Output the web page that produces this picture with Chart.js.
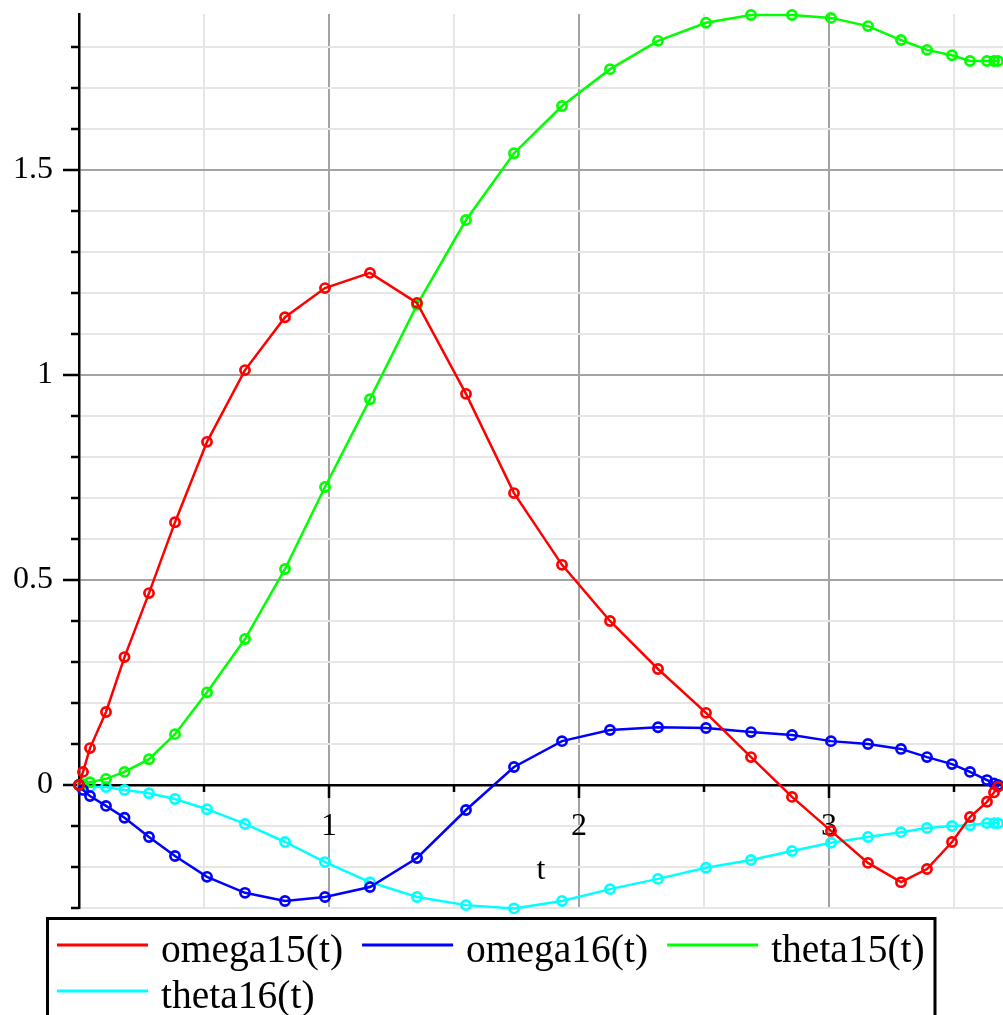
<!DOCTYPE html>
<html>
<head>
<meta charset="utf-8">
<script src="https://cdn.jsdelivr.net/npm/chart.js@4/dist/chart.umd.min.js"></script>
<style>
html, body { margin: 0; padding: 0; background: #ffffff; }
#wrap { width: 1003px; height: 1015px; position: relative; overflow: hidden; }
canvas { display: block; }
</style>
</head>
<body>
<div id="wrap"><canvas id="c" width="1003" height="1015"></canvas></div>
<script>
// ---------- data ----------
const tValues = [0, 0.016, 0.044, 0.108, 0.182, 0.28, 0.384, 0.512, 0.664, 0.824, 0.984, 1.164, 1.352, 1.548, 1.74, 1.932, 2.124, 2.316, 2.508, 2.688, 2.852, 3.008, 3.156, 3.288, 3.392, 3.492, 3.564, 3.632, 3.66, 3.676];
const omega15 = [0, 0.032, 0.090, 0.178, 0.312, 0.468, 0.641, 0.837, 1.012, 1.141, 1.212, 1.249, 1.176, 0.954, 0.712, 0.537, 0.400, 0.283, 0.176, 0.068, -0.029, -0.112, -0.190, -0.237, -0.205, -0.139, -0.078, -0.041, -0.018, -0.004];
const omega16 = [0, -0.012, -0.027, -0.051, -0.080, -0.127, -0.173, -0.224, -0.263, -0.283, -0.273, -0.249, -0.178, -0.061, 0.044, 0.107, 0.134, 0.141, 0.139, 0.129, 0.122, 0.107, 0.100, 0.088, 0.068, 0.051, 0.032, 0.012, 0.004, 0.000];
const theta15 = [0, 0.002, 0.007, 0.015, 0.032, 0.063, 0.124, 0.226, 0.356, 0.527, 0.727, 0.941, 1.171, 1.378, 1.541, 1.656, 1.746, 1.815, 1.859, 1.878, 1.878, 1.871, 1.851, 1.817, 1.793, 1.780, 1.766, 1.766, 1.766, 1.766];
const theta16 = [0, -0.001, -0.004, -0.005, -0.012, -0.020, -0.034, -0.059, -0.095, -0.139, -0.188, -0.237, -0.273, -0.293, -0.301, -0.283, -0.254, -0.229, -0.202, -0.183, -0.161, -0.141, -0.127, -0.115, -0.105, -0.100, -0.098, -0.093, -0.093, -0.093];

const seriesNames = ['omega15(t)', 'omega16(t)', 'theta15(t)', 'theta16(t)'];
const seriesColors = ['#ff0000', '#0000ff', '#00ff00', '#00ffff'];

const xTickValues = [0, 0.5, 1, 1.5, 2, 2.5, 3, 3.5];
const xLabelValues = [1, 2, 3];
const xLabelTexts = ['1', '2', '3'];
const yTickValues = [-0.3, -0.2, -0.1, 0, 0.1, 0.2, 0.3, 0.4, 0.5, 0.6, 0.7, 0.8, 0.9, 1, 1.1, 1.2, 1.3, 1.4, 1.5, 1.6, 1.7, 1.8];
const yLabelValues = [0, 0.5, 1, 1.5];
const yLabelTexts = ['0', '0.5', '1', '1.5'];
const xAxisTitle = 't';

const xMin = 0, xMax = 3.696, yMin = -0.3, yMax = 1.8805;

// ---------- helpers ----------
const FONT = "'Liberation Serif', 'Times New Roman', serif";
function near(a, b) { return Math.abs(a - b) < 1e-9; }
function labelFor(v, vals, texts) {
  for (let i = 0; i < vals.length; i++) if (near(v, vals[i])) return texts[i];
  return '';
}
function isMajorX(v) { return near(v, Math.round(v)); }
function isMajorY(v) { return near(v * 2, Math.round(v * 2)); }
function noPad(s) { s.paddingTop = 0; s.paddingBottom = 0; s.paddingLeft = 0; s.paddingRight = 0; }

const seriesValues = [omega15, omega16, theta15, theta16];
const datasets = seriesValues.map((vals, k) => ({
  label: seriesNames[k],
  data: tValues.map((t, i) => ({ x: t, y: vals[i] })),
  borderColor: seriesColors[k],
  pointBorderColor: seriesColors[k],
  pointBackgroundColor: 'rgba(0,0,0,0)',
  borderWidth: 2.5,
  pointRadius: 4.6,
  pointBorderWidth: 2.7,
  pointStyle: 'circle',
  tension: 0,
  fill: false,
  clip: false
}));

// tick marks on the axes + axis title
const axisDecor = {
  id: 'axisDecor',
  beforeDatasetsDraw(chart) {
    const { ctx, scales: { x, y }, chartArea } = chart;
    const x0 = x.getPixelForValue(0);
    const y0 = y.getPixelForValue(0);
    ctx.save();
    ctx.strokeStyle = '#000';
    ctx.lineWidth = 2.5;
    ctx.beginPath();
    y.ticks.forEach(tk => {
      const py = Math.round(y.getPixelForValue(tk.value));
      const len = isMajorY(tk.value) ? 16 : 8;
      ctx.moveTo(x0 - len, py); ctx.lineTo(x0, py);
    });
    x.ticks.forEach(tk => {
      if (near(tk.value, 0)) return;
      const px = Math.round(x.getPixelForValue(tk.value));
      const len = isMajorX(tk.value) ? 13 : 7;
      ctx.moveTo(px, y0); ctx.lineTo(px, y0 + len);
    });
    ctx.stroke();
    ctx.fillStyle = '#000';
    ctx.font = '32px ' + FONT;
    ctx.textAlign = 'center';
    ctx.textBaseline = 'middle';
    ctx.fillText(xAxisTitle, (chartArea.left + chartArea.right) / 2, y0 + 86);
    ctx.restore();
  }
};

// bordered legend below the plot
const boxLegend = {
  id: 'boxLegend',
  afterDraw(chart) {
    const { ctx } = chart;
    const boxL = 47.5, boxT = 918.5, boxR = 935;
    ctx.save();
    ctx.strokeStyle = '#000';
    ctx.lineWidth = 3;
    ctx.strokeRect(boxL, boxT, boxR - boxL, 200);
    ctx.font = '39.5px ' + FONT;
    ctx.textBaseline = 'alphabetic';
    ctx.textAlign = 'left';
    let x = 57, row = 0;
    chart.data.datasets.forEach(ds => {
      const tw = ctx.measureText(ds.label).width;
      if (x + 104 + tw > boxR - 8) { row++; x = 57; }
      const lineY = 945 + row * 46;
      ctx.strokeStyle = ds.borderColor;
      ctx.lineWidth = 3;
      ctx.beginPath();
      ctx.moveTo(x, lineY); ctx.lineTo(x + 91, lineY);
      ctx.stroke();
      ctx.fillStyle = '#000';
      ctx.fillText(ds.label, x + 104, lineY + 17);
      x = x + 104 + tw + 19;
    });
    ctx.restore();
  }
};

const tickFont = { family: FONT, size: 32 };

new Chart(document.getElementById('c'), {
  type: 'line',
  data: { datasets },
  options: {
    responsive: false,
    animation: false,
    devicePixelRatio: 1,
    layout: { autoPadding: false, padding: { left: 0, right: 0, top: 14, bottom: 107 } },
    plugins: { legend: { display: false }, tooltip: { enabled: false }, title: { display: false } },
    scales: {
      x: {
        type: 'linear',
        min: xMin, max: xMax,
        position: { y: 0 },
        afterFit: s => { s.height = 0; noPad(s); },
        afterBuildTicks: s => { s.ticks = xTickValues.map(v => ({ value: v })); },
        grid: {
          color: c => (c.tick && isMajorX(c.tick.value)) ? '#a3a3a3' : '#e6e6e6',
          lineWidth: 2,
          drawTicks: false
        },
        border: { display: true, color: '#000', width: 2.5 },
        ticks: {
          autoSkip: false, maxRotation: 0, minRotation: 0, padding: 22,
          color: '#000', font: tickFont,
          callback: v => labelFor(v, xLabelValues, xLabelTexts)
        }
      },
      y: {
        type: 'linear',
        min: yMin, max: yMax,
        position: 'left',
        afterFit: s => { s.width = 79; noPad(s); },
        afterBuildTicks: s => { s.ticks = yTickValues.map(v => ({ value: v })); },
        grid: {
          color: c => (c.tick && isMajorY(c.tick.value)) ? '#a3a3a3' : '#e6e6e6',
          lineWidth: 2,
          drawTicks: false
        },
        border: { display: true, color: '#000', width: 2.5 },
        ticks: {
          autoSkip: false, padding: 26,
          color: '#000', font: tickFont,
          callback: v => labelFor(v, yLabelValues, yLabelTexts)
        }
      }
    }
  },
  plugins: [axisDecor, boxLegend]
});
</script>
</body>
</html>
